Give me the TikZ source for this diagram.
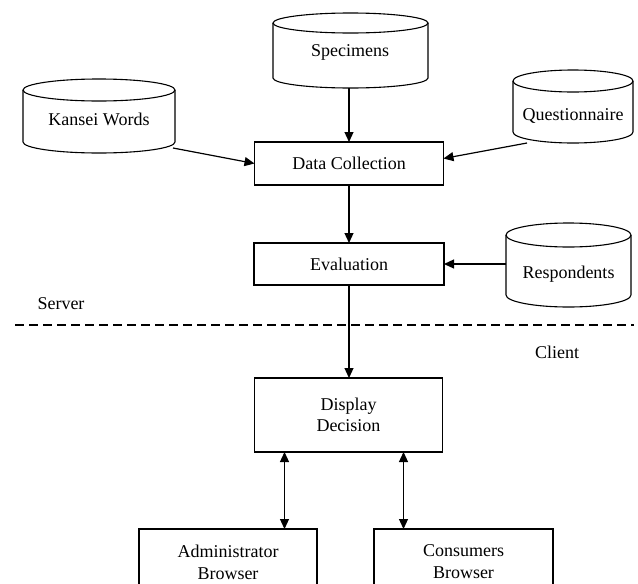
\documentclass[tikz,border=0pt]{standalone}
\usepackage{fontspec}
\setmainfont{Liberation Serif}
\usetikzlibrary{arrows.meta}

\tikzset{
  every node/.style={font=\fontsize{18}{22}\selectfont},
  procbox/.style={draw, line width=1.1pt, inner sep=0pt, outer sep=0pt, align=center},
  drumbox/.style={inner sep=0pt, outer sep=0pt},
  outline/.style={line width=1.1pt},
  arr/.style={line width=1.2pt, -{Triangle[length=10pt,width=9pt]}},
  dblarr/.style={line width=1.2pt, {Triangle[length=10pt,width=9pt]}-{Triangle[length=10pt,width=9pt]}},
  divider/.style={line width=1.4pt, dash pattern=on 9pt off 5pt}
}

% Database drum drawn around a named bounding node: #1 name, #2 x radius, #3 y radius
\newcommand\drumoutline[3]{%
  \draw[outline] ([yshift=-#3]#1.north west) -- ([yshift=#3]#1.south west)
    arc[start angle=180, end angle=360, x radius=#2, y radius=#3]
    -- ([yshift=-#3]#1.north east);
  \draw[outline] ([yshift=-#3]#1.north) ellipse[x radius=#2, y radius=#3];
}

\begin{document}
\begin{tikzpicture}[x=1pt, y=-1pt]
\useasboundingbox (0,0) rectangle (638,584);

% data stores
\node[drumbox, minimum width=155pt, minimum height=75pt] (sp) at (350.5,50.5) {};
\drumoutline{sp}{77.5pt}{10pt}
\node (spt) at (350,52) {Specimens};

\node[drumbox, minimum width=152pt, minimum height=74pt] (kw) at (99,116) {};
\drumoutline{kw}{76pt}{11pt}
\node (kwt) at (99,119) {Kansei Words};

\node[drumbox, minimum width=120pt, minimum height=73pt] (qu) at (573,106.5) {};
\drumoutline{qu}{60pt}{11pt}
\node (qut) at (573,116) {Questionnaire};

\node[drumbox, minimum width=125pt, minimum height=84pt] (re) at (568.5,265) {};
\drumoutline{re}{62.5pt}{12pt}
\node (ret) at (568.5,274) {Respondents};

% process boxes
\node[procbox, minimum width=189pt, minimum height=43pt] (dc) at (349,163.5) {Data Collection};
\node[procbox, minimum width=190pt, minimum height=42pt] (ev) at (349,264) {Evaluation};
\node[procbox, minimum width=188pt, minimum height=74pt] (dd) at (348.5,415) {Display\\[-1pt]Decision};
\node[procbox, minimum width=178pt, minimum height=66pt] (ab) at (228,562) {Administrator\\Browser};
\node[procbox, minimum width=179pt, minimum height=66pt] (cb) at (463.5,562) {Consumers\\Browser};

% server / client split
\coordinate (dl) at (15,325);
\coordinate (dr) at (634,325);
\draw[divider] (dl) -- (dr);
\node (srv) at (61,304) {Server};
\node (cli) at (557,352) {Client};

% flows
\draw[arr] (sp.south -| dc.north) -- (dc.north);
\draw[arr] ([xshift=-2pt, yshift=5pt]kw.south east) -- (dc.west);
\draw[arr] ([xshift=14pt]qu.south west) -- ([yshift=5pt]dc.east);
\draw[arr] (dc.south) -- (dc.south |- ev.north);
\draw[arr] (re.west |- ev.east) -- (ev.east);
\draw[arr] (ev.south) -- (ev.south |- dd.north);
\draw[dblarr] ([xshift=-64pt]dd.south) -- ([xshift=-64pt]dd.south |- ab.north);
\draw[dblarr] ([xshift=55pt]dd.south) -- ([xshift=55pt]dd.south |- cb.north);
\end{tikzpicture}
\end{document}
